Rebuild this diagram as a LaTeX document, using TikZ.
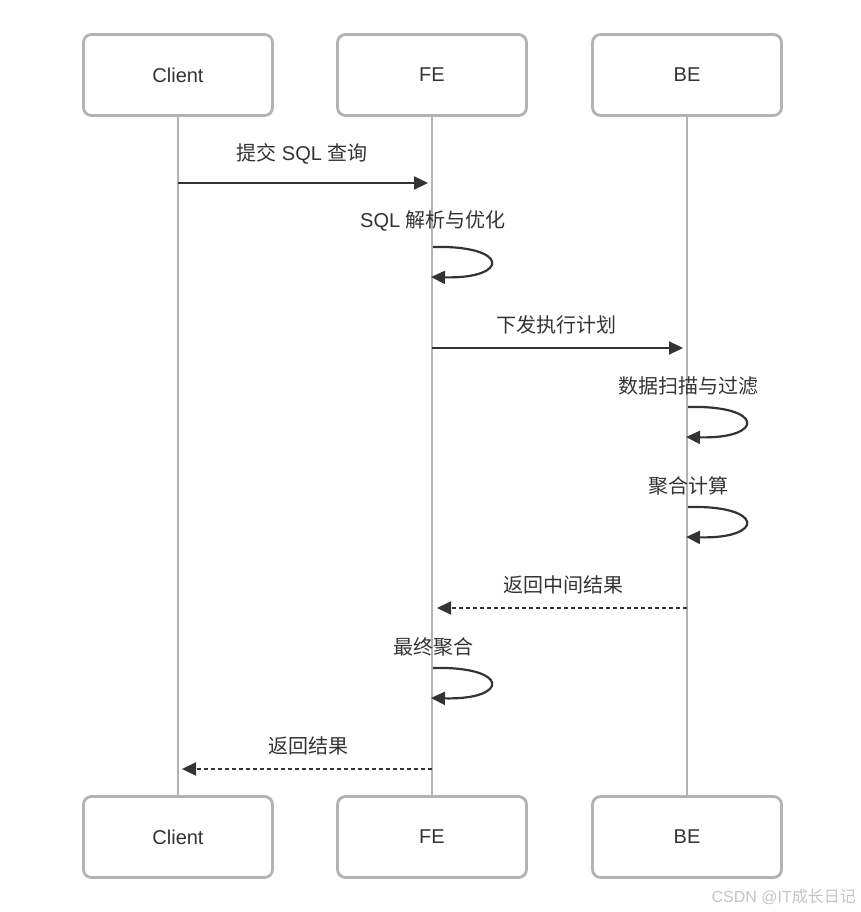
\documentclass[tikz,border=0pt]{standalone}
\usepackage{fontspec}
\setmainfont{Liberation Sans}
\newfontfamily\cjk{Noto Sans CJK SC}
\usetikzlibrary{arrows.meta,positioning}
\definecolor{seqgray}{HTML}{B3B3B3}
\definecolor{seqdark}{HTML}{333333}
\definecolor{seqmark}{HTML}{C4C4C4}

\begin{document}
\begin{tikzpicture}[x=1pt, y=-1pt,
  actor/.style={draw=seqgray, line width=2.8pt, rounded corners=8pt, fill=white,
    minimum width=189pt, minimum height=81pt, font=\fontsize{20}{24}\selectfont, text=seqdark},
  life/.style={seqgray, line width=2.8pt},
  msg/.style={seqdark, line width=2.2pt, -{Triangle[length=14pt, width=13pt]}},
  reply/.style={msg, dash pattern=on 4pt off 3pt},
  lbl/.style={font=\fontsize{20}{24}\selectfont, text=seqdark, inner sep=0pt}]

\useasboundingbox (0,0) rectangle (860,912);

% Participants
\node[actor] (clientTop) at (178,75) {Client};
\node[actor] (feTop) at (432,75) {FE};
\node[actor] (beTop) at (687,75) {BE};
\node[actor] (clientBot) at (178,837) {Client};
\node[actor] (feBot) at (432,837) {FE};
\node[actor] (beBot) at (687,837) {BE};

% Lifelines
\draw[life] (clientTop.south) -- (clientBot.north);
\draw[life] (feTop.south) -- (feBot.north);
\draw[life] (beTop.south) -- (beBot.north);

% Submit query
\coordinate (sqlA) at (178,183);
\coordinate (sqlB) at (428,183);
\draw[msg] (sqlA) -- (sqlB);
\node[lbl] (sqlLbl) at (302,154) {{\cjk 提交} SQL {\cjk 查询}};

% Parse and optimise
\coordinate (parseA) at (433,247);
\coordinate (parseB) at (431,277);
\draw[msg] (parseA) .. controls (510,245) and (510,279) .. (parseB);
\node[lbl] (parseLbl) at (433,221) {SQL {\cjk 解析与优化}};

% Dispatch plan
\coordinate (planA) at (432,348);
\coordinate (planB) at (683,348);
\draw[msg] (planA) -- (planB);
\node[lbl] (planLbl) at (556,325) {\cjk 下发执行计划};

% Scan and filter
\coordinate (scanA) at (688,407);
\coordinate (scanB) at (686,437);
\draw[msg] (scanA) .. controls (765,405) and (765,439) .. (scanB);
\node[lbl] (scanLbl) at (688,386) {\cjk 数据扫描与过滤};

% Aggregate
\coordinate (aggA) at (688,507);
\coordinate (aggB) at (686,537);
\draw[msg] (aggA) .. controls (765,505) and (765,539) .. (aggB);
\node[lbl] (aggLbl) at (688,486) {\cjk 聚合计算};

% Partial results
\coordinate (partA) at (687,608);
\coordinate (partB) at (437,608);
\draw[reply] (partA) -- (partB);
\node[lbl] (partLbl) at (563,585) {\cjk 返回中间结果};

% Final aggregate
\coordinate (finA) at (433,668);
\coordinate (finB) at (431,698);
\draw[msg] (finA) .. controls (510,666) and (510,700) .. (finB);
\node[lbl] (finLbl) at (433,647) {\cjk 最终聚合};

% Results
\coordinate (resA) at (432,769);
\coordinate (resB) at (182,769);
\draw[reply] (resA) -- (resB);
\node[lbl] (resLbl) at (308,746) {\cjk 返回结果};

% Watermark
\node[anchor=east, inner sep=0pt, text=seqmark, font=\fontsize{16}{19}\selectfont] (mark) at (856,897) {CSDN @IT{\cjk 成长日记}};

\end{tikzpicture}
\end{document}
